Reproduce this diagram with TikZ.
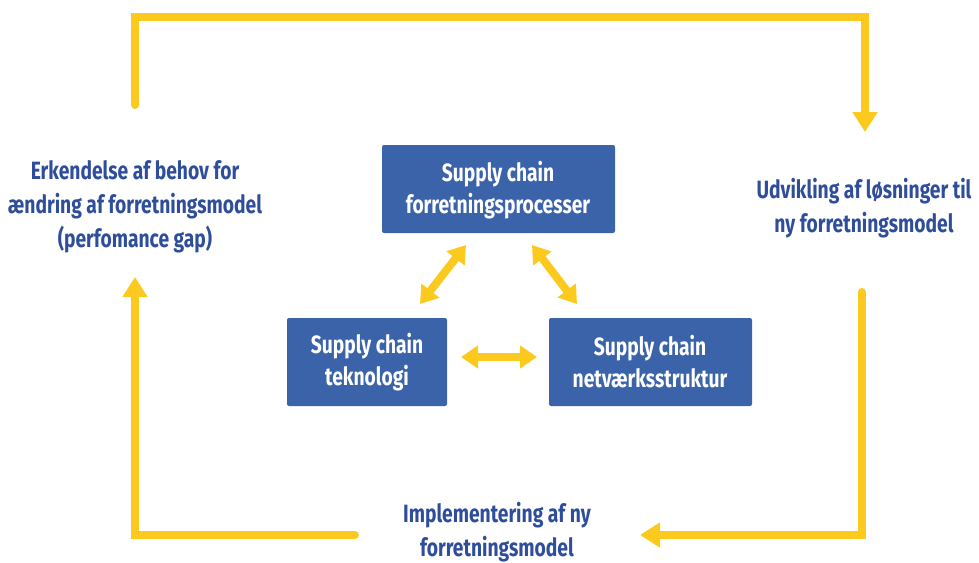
\documentclass[tikz,border=0pt]{standalone}
\usepackage{fontspec}
\setmainfont{Fira Sans}[FakeStretch=0.77]
\usetikzlibrary{arrows.meta}
\definecolor{ylw}{HTML}{FCCA1E}
\definecolor{boxblue}{HTML}{3A63AA}
\definecolor{txtblue}{HTML}{2E4D9A}
\tikzset{
  flow/.style={draw=ylw, line width=8pt, line cap=round, line join=miter, -{Triangle[length=20pt,width=24pt]}},
  dbl/.style={draw=ylw, line width=8pt, {Triangle[length=17pt,width=22pt]}-{Triangle[length=17pt,width=22pt]}},
  box/.style={fill=boxblue, rounded corners=2pt, text=white, font=\fontsize{25}{32}\selectfont\bfseries, align=center},
  lbl/.style={text=txtblue, font=\fontsize{25}{34}\selectfont\bfseries, align=center}
}
\begin{document}
\begin{tikzpicture}[x=1pt,y=-1pt]
\useasboundingbox (0,0) rectangle (979,562);
% boxes
\path[box] (382,145) rectangle (615,233);
\node[box, fill=none] (proc) at (498,190) {Supply chain\\forretningsprocesser};
\path[box] (287,318) rectangle (447,406);
\node[box, fill=none] (tek) at (367,362) {Supply chain\\teknologi};
\path[box] (549,318) rectangle (752,406);
\node[box, fill=none] (net) at (650,362) {Supply chain\\netværksstruktur};
% labels
\node[lbl] (erk) at (135,207) {Erkendelse af behov for\\ændring af forretningsmodel\\(perfomance gap)};
\node[lbl] (udv) at (864,208) {Udvikling af løsninger til\\ny forretningsmodel};
\node[lbl] (imp) at (497,532) {Implementering af ny\\forretningsmodel};
% loop connectors
\coordinate (a1) at (135,105);
\coordinate (a2) at (865,132);
\coordinate (b1) at (862,292);
\coordinate (b2) at (640,535);
\coordinate (c1) at (355,535);
\coordinate (c2) at (135,277);
\draw[flow] (a1) -- (135,17) -- (865,17) -- (a2);
\draw[flow] (b1) -- (862,535) -- (b2);
\draw[flow] (c1) -- (135,535) -- (c2);
% double arrows
\coordinate (d1) at (420,304);
\coordinate (d2) at (466,245);
\coordinate (e1) at (532,245);
\coordinate (e2) at (577,304);
\coordinate (f1) at (461,357);
\coordinate (f2) at (537,357);
\draw[dbl] (d1) -- (d2);
\draw[dbl] (e1) -- (e2);
\draw[dbl] (f1) -- (f2);
\end{tikzpicture}
\end{document}
